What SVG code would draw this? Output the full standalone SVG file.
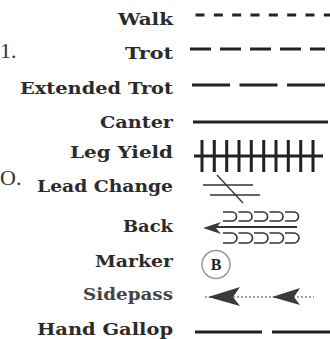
<svg xmlns="http://www.w3.org/2000/svg" width="330" height="339" viewBox="0 0 330 339">
<style>
.lbl{font-family:"DejaVu Serif","Liberation Serif",serif;font-weight:bold;font-size:17.5px;fill:#2b2b2b;text-anchor:end}
.big{font-family:"Liberation Serif",serif;font-size:22px;fill:#333}
.ln{stroke:#222;stroke-width:3;fill:none}
.thin{stroke:#333;stroke-width:1.3;fill:none}
.bk{stroke:#333;stroke-width:1.6;fill:none}
.ah{fill:#3a3a3a}
</style>
<rect width="330" height="339" fill="#fff"/>
<g id="margin">
<text class="big" x="0" y="58">1.</text>
<text class="big" x="0" y="185">O.</text>
</g>
<g id="labels">
<text class="lbl" x="173" y="25" textLength="55" lengthAdjust="spacingAndGlyphs">Walk</text>
<text class="lbl" x="173" y="59" textLength="48" lengthAdjust="spacingAndGlyphs">Trot</text>
<text class="lbl" x="173" y="94" textLength="153" lengthAdjust="spacingAndGlyphs">Extended Trot</text>
<text class="lbl" x="173" y="128" textLength="73" lengthAdjust="spacingAndGlyphs">Canter</text>
<text class="lbl" x="173" y="158" textLength="103" lengthAdjust="spacingAndGlyphs">Leg Yield</text>
<text class="lbl" x="173" y="192" textLength="136" lengthAdjust="spacingAndGlyphs">Lead Change</text>
<text class="lbl" x="173" y="232" textLength="50" lengthAdjust="spacingAndGlyphs">Back</text>
<text class="lbl" x="173" y="267" textLength="78" lengthAdjust="spacingAndGlyphs">Marker</text>
<text class="lbl" x="173" y="300" textLength="90" lengthAdjust="spacingAndGlyphs" style="fill:#444">Sidepass</text>
<text class="lbl" x="173" y="335" textLength="136" lengthAdjust="spacingAndGlyphs">Hand Gallop</text>
</g>
<g id="walk"><line class="ln" x1="195.5" y1="15" x2="330" y2="15" stroke-dasharray="9 9.33"/></g>
<g id="trot"><line class="ln" x1="190" y1="49" x2="325" y2="49" stroke-dasharray="21 9"/></g>
<g id="extended-trot"><line class="ln" x1="192" y1="85" x2="325" y2="85" stroke-dasharray="38 9.5"/></g>
<g id="canter"><line class="ln" x1="193" y1="122" x2="328" y2="122"/></g>
<g id="leg-yield">
<line class="ln" x1="194" y1="156" x2="323" y2="156" stroke-width="2.5"/>
<path class="ln" d="M202,140V172M214.3,140V172M226.7,140V172M239,140V172M251.3,140V172M263.7,140V172M276,140V172M288.3,140V172M300.7,140V172M313,140V172"/>
</g>
<g id="lead-change">
<line class="thin" x1="203" y1="185" x2="253" y2="185"/>
<line class="thin" x1="210" y1="195" x2="260" y2="195"/>
<line class="thin" x1="217" y1="175" x2="243" y2="203"/>
</g>
<g id="back">
<line x1="210" y1="227" x2="297" y2="227" stroke="#333" stroke-width="2"/>
<polygon class="ah" points="203,228 221,222 216,228 221,234"/>
<path class="bk" d="M223,212H232A4.5,4.5 0 0 1 232,221H223M238.5,212H247.5A4.5,4.5 0 0 1 247.5,221H238.5M254,212H263A4.5,4.5 0 0 1 263,221H254M269.5,212H278.5A4.5,4.5 0 0 1 278.5,221H269.5M285,212H294A4.5,4.5 0 0 1 294,221H285"/>
<path class="bk" d="M223,233H232A5,5 0 0 1 232,243H223M238.5,233H247.5A5,5 0 0 1 247.5,243H238.5M254,233H263A5,5 0 0 1 263,243H254M269.5,233H278.5A5,5 0 0 1 278.5,243H269.5M285,233H294A5,5 0 0 1 294,243H285"/>
</g>
<g id="marker">
<circle cx="216" cy="264.5" r="14" fill="none" stroke="#999" stroke-width="1.5"/>
<text x="216" y="270" text-anchor="middle" font-family="'Liberation Serif',serif" font-weight="bold" font-size="16" fill="#222">B</text>
</g>
<g id="sidepass">
<line x1="205" y1="297" x2="314" y2="297" stroke="#444" stroke-width="1.2" stroke-dasharray="2 2"/>
<polygon class="ah" points="208,297 240,287 233,297 240,306"/>
<polygon class="ah" points="272,297 300,288 294,297 300,305"/>
</g>
<g id="hand-gallop">
<line class="ln" x1="195" y1="332" x2="262" y2="332" stroke="#3a3a3a"/>
<line class="ln" x1="272" y1="332" x2="330" y2="332" stroke="#3a3a3a"/>
</g>
</svg>
